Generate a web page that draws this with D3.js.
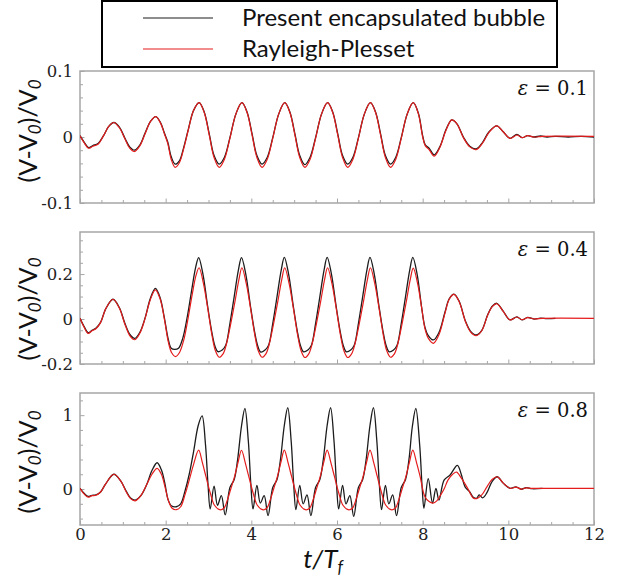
<!DOCTYPE html>
<html><head><meta charset="utf-8">
<script src="https://cdn.jsdelivr.net/npm/d3@7"></script>
<style>body{margin:0;background:#fff}</style>
</head><body>
<svg id="c" width="632" height="584"></svg>
<script>
// ---------- DATA ----------
const seriesNames = ["Present encapsulated bubble", "Rayleigh-Plesset"];
const epsilonLabels = ["0.1", "0.4", "0.8"];
const xMajorTicks = [0, 2, 4, 6, 8, 10, 12];
const xMinorTicks = [0.5,1,1.5,2.5,3,3.5,4.5,5,5.5,6.5,7,7.5,8.5,9,9.5,10.5,11,11.5];
const p1YMajor = [-0.1, 0, 0.1];
const p1YMinor = [-0.08,-0.06,-0.04,-0.02,0.02,0.04,0.06,0.08];
const p2YMajor = [-0.2, 0, 0.2];
const p2YMinor = [-0.15,-0.1,-0.05,0.05,0.1,0.15,0.25,0.3,0.35];
const p3YMajor = [0, 1];
const p3YMinor = [-0.4,-0.2,0.2,0.4,0.6,0.8,1.2];

// panel 1 (eps = 0.1)
const p1Black = [
[0,0.002],[0.1,-0.008],[0.2,-0.016],[0.3,-0.013],[0.42,-0.010],[0.55,0.002],[0.67,0.016],[0.79,0.022],[0.92,0.015],[1.05,-0.002],[1.16,-0.015],[1.27,-0.020],[1.4,-0.012],[1.52,0.006],[1.65,0.024],[1.77,0.031],[1.88,0.022],[1.97,0.006],[2.05,-0.008],[2.13,-0.030],[2.22,-0.041],[2.32,-0.036],[2.42,-0.016],[2.53,0.012],[2.65,0.040],[2.78,0.052],
[2.9,0.038],[3.02,0.004],[3.13,-0.028],[3.25,-0.041],[3.37,-0.031],[3.5,-0.001],[3.64,0.035],[3.78,0.052],
[3.9,0.038],[4.02,0.004],[4.13,-0.028],[4.25,-0.041],[4.37,-0.031],[4.5,-0.001],[4.64,0.035],[4.78,0.052],
[4.9,0.038],[5.02,0.004],[5.13,-0.028],[5.25,-0.042],[5.37,-0.031],[5.5,-0.001],[5.64,0.035],[5.78,0.052],
[5.9,0.038],[6.02,0.004],[6.13,-0.028],[6.25,-0.041],[6.37,-0.031],[6.5,-0.001],[6.64,0.035],[6.78,0.052],
[6.9,0.038],[7.02,0.004],[7.13,-0.028],[7.25,-0.041],[7.37,-0.031],[7.5,-0.001],[7.64,0.035],[7.78,0.052],
[7.9,0.036],[8.0,0.002],[8.06,-0.012],[8.15,-0.017],[8.27,-0.027],[8.4,-0.015],[8.55,0.012],[8.68,0.026],[8.8,0.020],[8.95,0.0],[9.1,-0.014],[9.25,-0.018],[9.4,-0.008],[9.55,0.008],[9.73,0.017],[9.88,0.008],[10.04,-0.002],[10.2,0.004],[10.32,-0.001],[10.45,0.002],[10.6,0.0],[10.75,0.0015],[10.9,0.0],[11.1,0.001],[11.4,0.0],[11.7,0.001],[12,0.0]
];
const p1Red = [
[0,0.002],[0.1,-0.009],[0.2,-0.017],[0.3,-0.014],[0.42,-0.011],[0.55,0.002],[0.67,0.016],[0.79,0.022],[0.92,0.014],[1.05,-0.003],[1.16,-0.017],[1.27,-0.022],[1.4,-0.013],[1.52,0.005],[1.65,0.024],[1.77,0.031],[1.88,0.021],[1.97,0.005],[2.05,-0.010],[2.13,-0.034],[2.22,-0.046],[2.32,-0.039],[2.42,-0.018],[2.53,0.011],[2.65,0.040],[2.78,0.052],
[2.9,0.037],[3.02,0.002],[3.13,-0.031],[3.25,-0.046],[3.37,-0.034],[3.5,-0.002],[3.64,0.035],[3.78,0.052],
[3.9,0.037],[4.02,0.002],[4.13,-0.031],[4.25,-0.046],[4.37,-0.034],[4.5,-0.002],[4.64,0.035],[4.78,0.052],
[4.9,0.037],[5.02,0.002],[5.13,-0.031],[5.25,-0.046],[5.37,-0.034],[5.5,-0.002],[5.64,0.035],[5.78,0.052],
[5.9,0.037],[6.02,0.002],[6.13,-0.031],[6.25,-0.046],[6.37,-0.034],[6.5,-0.002],[6.64,0.035],[6.78,0.052],
[6.9,0.037],[7.02,0.002],[7.13,-0.031],[7.25,-0.046],[7.37,-0.034],[7.5,-0.002],[7.64,0.035],[7.78,0.052],
[7.9,0.035],[8.0,0.000],[8.06,-0.013],[8.15,-0.019],[8.27,-0.029],[8.4,-0.016],[8.55,0.011],[8.68,0.026],[8.8,0.020],[8.95,-0.001],[9.1,-0.015],[9.25,-0.019],[9.4,-0.009],[9.55,0.007],[9.73,0.017],[9.88,0.008],[10.04,-0.002],[10.2,0.003],[10.32,-0.001],[10.45,0.002],[10.6,0.0],[10.8,0.001],[12,0.001]
];

// panel 2 (eps = 0.4)
const p2Black = [
[0,0.003],[0.1,-0.035],[0.19,-0.061],[0.28,-0.050],[0.37,-0.041],[0.48,-0.015],[0.6,0.045],[0.77,0.088],[0.92,0.050],[1.05,-0.020],[1.17,-0.070],[1.28,-0.086],[1.4,-0.058],[1.52,0.005],[1.64,0.090],[1.76,0.136],[1.87,0.095],[1.97,0.005],[2.06,-0.090],[2.13,-0.130],[2.21,-0.135],[2.3,-0.130],[2.4,-0.085],[2.5,0.005],[2.6,0.120],[2.7,0.230],[2.77,0.273],
[2.87,0.200],[2.97,0.070],[3.07,-0.050],[3.15,-0.120],[3.22,-0.145],[3.32,-0.138],[3.4,-0.118],[3.5,-0.020],[3.6,0.100],[3.7,0.220],[3.77,0.273],
[3.87,0.200],[3.97,0.070],[4.07,-0.050],[4.15,-0.120],[4.22,-0.147],[4.32,-0.138],[4.4,-0.118],[4.5,-0.020],[4.6,0.100],[4.7,0.220],[4.77,0.274],
[4.87,0.200],[4.97,0.070],[5.07,-0.050],[5.15,-0.120],[5.22,-0.146],[5.32,-0.138],[5.4,-0.118],[5.5,-0.020],[5.6,0.100],[5.7,0.220],[5.77,0.274],
[5.87,0.200],[5.97,0.070],[6.07,-0.050],[6.15,-0.120],[6.22,-0.146],[6.32,-0.138],[6.4,-0.118],[6.5,-0.020],[6.6,0.100],[6.7,0.220],[6.77,0.274],
[6.87,0.200],[6.97,0.070],[7.07,-0.050],[7.15,-0.120],[7.22,-0.146],[7.32,-0.138],[7.4,-0.118],[7.5,-0.020],[7.6,0.100],[7.7,0.220],[7.77,0.274],
[7.87,0.200],[7.97,0.060],[8.05,-0.034],[8.12,-0.070],[8.25,-0.093],[8.38,-0.060],[8.52,0.030],[8.62,0.090],[8.73,0.111],[8.85,0.080],[9.0,-0.010],[9.12,-0.055],[9.25,-0.071],[9.38,-0.050],[9.52,0.020],[9.63,0.058],[9.73,0.070],[9.88,0.035],[10.04,-0.004],[10.2,0.010],[10.32,-0.004],[10.45,0.007],[10.6,0.000],[10.75,0.004],[10.9,0.002],[11.1,0.003]
];
const p2Red = [
[0,0.003],[0.1,-0.038],[0.19,-0.064],[0.28,-0.052],[0.37,-0.043],[0.48,-0.016],[0.6,0.045],[0.77,0.088],[0.92,0.048],[1.05,-0.024],[1.17,-0.076],[1.28,-0.092],[1.4,-0.062],[1.52,0.003],[1.64,0.085],[1.76,0.130],[1.87,0.090],[1.97,0.000],[2.06,-0.100],[2.14,-0.150],[2.23,-0.167],[2.32,-0.150],[2.42,-0.095],[2.52,0.000],[2.62,0.110],[2.71,0.195],[2.78,0.228],
[2.88,0.160],[2.98,0.050],[3.08,-0.070],[3.16,-0.140],[3.25,-0.170],[3.34,-0.155],[3.42,-0.110],[3.52,-0.020],[3.62,0.080],[3.71,0.175],[3.78,0.228],
[3.88,0.160],[3.98,0.050],[4.08,-0.070],[4.16,-0.140],[4.25,-0.170],[4.34,-0.155],[4.42,-0.110],[4.52,-0.020],[4.62,0.080],[4.71,0.175],[4.78,0.228],
[4.88,0.160],[4.98,0.050],[5.08,-0.070],[5.16,-0.140],[5.25,-0.171],[5.34,-0.155],[5.42,-0.110],[5.52,-0.020],[5.62,0.080],[5.71,0.175],[5.78,0.228],
[5.88,0.160],[5.98,0.050],[6.08,-0.070],[6.16,-0.140],[6.25,-0.171],[6.34,-0.155],[6.42,-0.110],[6.52,-0.020],[6.62,0.080],[6.71,0.175],[6.78,0.228],
[6.88,0.160],[6.98,0.050],[7.08,-0.070],[7.16,-0.140],[7.25,-0.170],[7.34,-0.155],[7.42,-0.110],[7.52,-0.020],[7.62,0.080],[7.71,0.175],[7.78,0.226],
[7.88,0.160],[7.98,0.045],[8.05,-0.040],[8.13,-0.085],[8.25,-0.108],[8.38,-0.070],[8.52,0.025],[8.62,0.088],[8.73,0.110],[8.85,0.078],[9.0,-0.012],[9.12,-0.058],[9.25,-0.074],[9.38,-0.052],[9.52,0.018],[9.63,0.056],[9.73,0.068],[9.88,0.034],[10.04,-0.004],[10.2,0.009],[10.32,-0.003],[10.45,0.006],[10.6,0.001],[10.8,0.003],[12,0.003]
];

// panel 3 (eps = 0.8)
const p3Black = [
[0,0.01],[0.1,-0.06],[0.19,-0.10],[0.28,-0.085],[0.37,-0.08],[0.48,-0.04],[0.6,0.07],[0.79,0.20],[0.95,0.11],[1.08,-0.03],[1.18,-0.12],[1.29,-0.15],[1.42,-0.09],[1.55,0.05],[1.68,0.25],[1.8,0.356],[1.9,0.26],[1.98,0.08],[2.06,-0.15],[2.14,-0.23],[2.25,-0.24],[2.35,-0.20],[2.45,-0.03],[2.55,0.20],[2.65,0.50],[2.76,0.86],[2.85,0.99],
[2.93,0.60],[2.99,0.05],[3.04,-0.27],[3.13,0.04],[3.21,-0.22],[3.30,-0.09],[3.39,-0.35],[3.50,0.02],[3.60,0.13],[3.68,0.40],[3.77,0.85],[3.85,1.09],
[3.93,0.65],[3.99,0.05],[4.04,-0.27],[4.13,0.05],[4.21,-0.19],[4.30,-0.09],[4.39,-0.36],[4.50,0.02],[4.60,0.13],[4.68,0.40],[4.77,0.86],[4.85,1.10],
[4.93,0.65],[4.99,0.05],[5.04,-0.28],[5.13,0.05],[5.21,-0.20],[5.30,-0.08],[5.39,-0.36],[5.50,0.02],[5.60,0.13],[5.68,0.40],[5.77,0.86],[5.85,1.10],
[5.93,0.65],[5.99,0.05],[6.04,-0.27],[6.13,0.05],[6.21,-0.20],[6.30,-0.09],[6.39,-0.37],[6.50,0.02],[6.60,0.13],[6.68,0.40],[6.77,0.86],[6.85,1.10],
[6.93,0.65],[6.99,0.05],[7.04,-0.28],[7.13,0.05],[7.21,-0.20],[7.30,-0.08],[7.39,-0.36],[7.50,0.02],[7.60,0.13],[7.68,0.40],[7.76,0.85],[7.84,1.09],
[7.93,0.60],[7.99,0.0],[8.03,-0.26],[8.13,0.14],[8.23,-0.19],[8.31,0.01],[8.38,-0.15],[8.5,0.12],[8.64,0.19],[8.81,0.32],[8.9,0.20],[8.99,0.03],[9.1,-0.04],[9.18,-0.11],[9.26,-0.126],[9.32,-0.08],[9.4,-0.12],[9.5,-0.05],[9.62,0.10],[9.74,0.166],[9.88,0.08],[10.04,0.01],[10.18,0.03],[10.3,-0.003],[10.42,0.02],[10.55,0.005],[10.8,0.01]
];
const p3Red = [
[0,0.01],[0.1,-0.07],[0.19,-0.11],[0.28,-0.09],[0.37,-0.085],[0.48,-0.04],[0.6,0.07],[0.79,0.20],[0.95,0.11],[1.08,-0.04],[1.18,-0.13],[1.29,-0.16],[1.42,-0.09],[1.55,0.05],[1.68,0.20],[1.8,0.28],[1.9,0.20],[1.98,0.04],[2.06,-0.15],[2.15,-0.26],[2.25,-0.28],[2.35,-0.24],[2.45,-0.08],[2.55,0.12],[2.65,0.33],[2.77,0.527],
[2.86,0.35],[2.94,0.17],[3.04,-0.05],[3.14,-0.22],[3.26,-0.28],[3.36,-0.26],[3.44,-0.15],[3.52,0.0],[3.60,0.15],[3.69,0.36],[3.77,0.525],
[3.86,0.35],[3.94,0.17],[4.04,-0.05],[4.14,-0.22],[4.26,-0.28],[4.36,-0.26],[4.44,-0.15],[4.52,0.0],[4.60,0.15],[4.69,0.36],[4.77,0.527],
[4.86,0.35],[4.94,0.17],[5.04,-0.05],[5.14,-0.22],[5.26,-0.28],[5.36,-0.26],[5.44,-0.15],[5.52,0.0],[5.60,0.15],[5.69,0.36],[5.77,0.527],
[5.86,0.35],[5.94,0.17],[6.04,-0.05],[6.14,-0.22],[6.26,-0.28],[6.36,-0.26],[6.44,-0.15],[6.52,0.0],[6.60,0.15],[6.69,0.36],[6.77,0.527],
[6.86,0.35],[6.94,0.17],[7.04,-0.05],[7.14,-0.22],[7.26,-0.28],[7.36,-0.26],[7.44,-0.15],[7.52,0.0],[7.60,0.15],[7.69,0.36],[7.77,0.527],
[7.86,0.35],[7.94,0.17],[8.05,-0.10],[8.15,-0.17],[8.24,-0.19],[8.33,-0.16],[8.4,-0.10],[8.5,0.0],[8.59,0.12],[8.7,0.20],[8.79,0.23],[8.9,0.15],[9.06,0.0],[9.18,-0.12],[9.26,-0.13],[9.38,-0.08],[9.5,0.03],[9.62,0.13],[9.74,0.166],[9.88,0.08],[10.04,0.01],[10.18,0.025],[10.3,0.0],[10.42,0.015],[10.55,0.01],[12,0.01]
];

// ---------- DRAW ----------
const svg = d3.select("#c");
const xLeft = 80, xRight = 594;
const x = d3.scaleLinear().domain([0, 12]).range([xLeft, xRight]);

const panels = [
  {top: 71, bottom: 203, dom: [-0.1, 0.1], major: p1YMajor, minor: p1YMinor, black: p1Black, red: p1Red, eps: epsilonLabels[0], titleY: 131},
  {top: 232, bottom: 364, dom: [-0.2, 0.387], major: p2YMajor, minor: p2YMinor, black: p2Black, red: p2Red, eps: epsilonLabels[1], titleY: 309},
  {top: 393, bottom: 525, dom: [-0.487, 1.3], major: p3YMajor, minor: p3YMinor, black: p3Black, red: p3Red, eps: epsilonLabels[2], titleY: 462}
];

const frameColor = "#a6a6a6";
const serif = "DejaVu Serif, serif";
const sans = "Lato, Open Sans, sans-serif";

panels.forEach((p, i) => {
  const y = d3.scaleLinear().domain(p.dom).range([p.bottom, p.top]);
  const g = svg.append("g");
  const clipId = "clip" + i;
  svg.append("clipPath").attr("id", clipId).append("rect")
    .attr("x", xLeft).attr("y", p.top).attr("width", xRight - xLeft).attr("height", p.bottom - p.top);

  const yMin = g.append("g").attr("transform", `translate(${xLeft},0)`)
    .call(d3.axisLeft(y).tickValues(p.minor).tickSize(-3).tickFormat(""));
  const yMaj = g.append("g").attr("transform", `translate(${xLeft},0)`)
    .call(d3.axisLeft(y).tickValues(p.major).tickSize(-4.5).tickPadding(7)
      .tickFormat(v => v === 0 ? "0" : String(v)));
  const xMin = g.append("g").attr("transform", `translate(0,${p.bottom})`)
    .call(d3.axisBottom(x).tickValues(xMinorTicks).tickSize(-3).tickFormat(""));
  const xMaj = g.append("g").attr("transform", `translate(0,${p.bottom})`)
    .call(d3.axisBottom(x).tickValues(xMajorTicks).tickSize(-4.5).tickPadding(3)
      .tickFormat(i === 2 ? (v => String(v)) : ""));
  [yMin, yMaj, xMin, xMaj].forEach(a => {
    a.attr("font-family", null).attr("font-size", null);
    a.select(".domain").remove();
    a.selectAll(".tick line").attr("stroke", frameColor).attr("stroke-width", 1);
    a.selectAll(".tick text").style("font-family", serif).style("font-size", "16.5px").attr("fill", "#222");
  });

  g.append("rect").attr("x", xLeft).attr("y", p.top)
    .attr("width", xRight - xLeft).attr("height", p.bottom - p.top)
    .attr("fill", "none").attr("stroke", frameColor).attr("stroke-width", 1.5);

  const line = d3.line().x(d => x(d[0])).y(d => y(d[1])).curve(d3.curveCatmullRom.alpha(0.5));
  const cg = g.append("g").attr("clip-path", `url(#${clipId})`);
  cg.append("path").datum(p.black).attr("d", line).attr("fill", "none")
    .attr("stroke", "#1c1c1c").attr("stroke-width", 1.3);
  cg.append("path").datum(p.red).attr("d", line).attr("fill", "none")
    .attr("stroke", "#e51c1c").attr("stroke-width", 1.2);

  const et = g.append("text").attr("x", 588).attr("y", p.top + 24).attr("text-anchor", "end")
    .style("font-family", serif).style("font-size", "19.5px").attr("fill", "#111");
  et.append("tspan").attr("font-style", "italic").text("ε");
  et.append("tspan").text(" = " + p.eps);

  const yt = g.append("text").attr("transform", `translate(37,${p.titleY}) rotate(-90)`)
    .attr("text-anchor", "middle").style("font-family", sans).style("font-size", "25px").attr("fill", "#111");
  yt.append("tspan").text("(V-V");
  yt.append("tspan").attr("font-style", "italic").style("font-size", "17px").attr("dy", 4).text("0");
  yt.append("tspan").attr("dy", -4).text(")/V");
  yt.append("tspan").attr("font-style", "italic").style("font-size", "17px").attr("dy", 4).text("0");
});

const xt = svg.append("text").attr("x", 323).attr("y", 568).attr("text-anchor", "middle")
  .style("font-family", sans).style("font-size", "26px").attr("font-style", "italic").attr("fill", "#111");
xt.append("tspan").text("t/T");
xt.append("tspan").style("font-size", "17px").attr("dy", 5).text("f");

const lg = svg.append("g");
lg.append("rect").attr("x", 102).attr("y", 1).attr("width", 455).attr("height", 66)
  .attr("fill", "#fff").attr("stroke", "#000").attr("stroke-width", 2);
const legColors = ["#1c1c1c", "#e51c1c"];
const legY = [18, 49];
seriesNames.forEach((n, i) => {
  lg.append("line").attr("x1", 143).attr("x2", 213).attr("y1", legY[i]).attr("y2", legY[i])
    .attr("stroke", legColors[i]).attr("stroke-width", 1.2);
  lg.append("text").attr("x", 242).attr("y", legY[i] + 8).style("font-family", sans)
    .style("font-size", "24px").attr("fill", "#111").text(n);
});
</script>
</body></html>
